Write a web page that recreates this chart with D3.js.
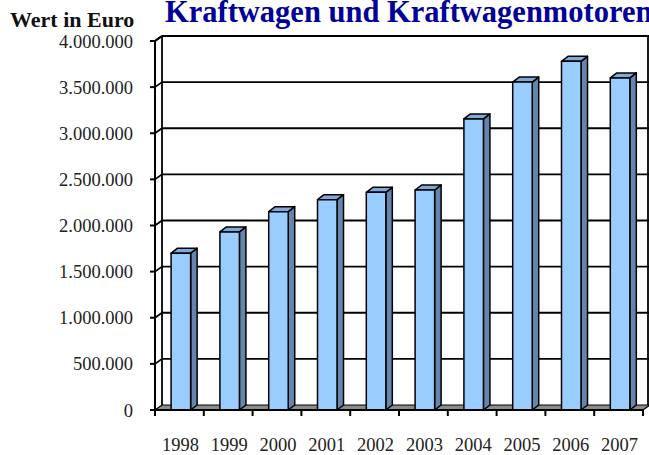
<!DOCTYPE html>
<html>
<head>
<meta charset="utf-8">
<script src="https://cdn.jsdelivr.net/npm/d3@7/dist/d3.min.js"></script>
<style>
  html, body { margin: 0; padding: 0; background: #fff; }
  svg { display: block; }
</style>
</head>
<body>
<svg id="chart" width="649" height="455"></svg>
<script>
// ---- data ----
const years = ["1998", "1999", "2000", "2001", "2002", "2003", "2004", "2005", "2006", "2007"];
const values = [1700000, 1930000, 2150000, 2280000, 2360000, 2385000, 3155000, 3555000, 3780000, 3600000];
const yTickValues = [0, 500000, 1000000, 1500000, 2000000, 2500000, 3000000, 3500000, 4000000];
const titleText = "Kraftwagen und Kraftwagenmotoren";
const yAxisTitle = "Wert in Euro";

(function () {
// ---- layout ----
const svg = d3.select("#chart");
const pLeft = 155, pRight = 643, pBottom = 410, pTop = 41;
const dx = 7, dy = -5;      // depth of the walls
const bdx = 6.5, bdy = -5;  // depth of the bars

const de = d3.formatLocale({decimal: ",", thousands: ".", grouping: [3], currency: ["", "€"]});
const fmt = de.format(",d");

const x = d3.scaleBand().domain(years).range([pLeft, pRight]).paddingInner(0).paddingOuter(0);
const y = d3.scaleLinear().domain([0, 4000000]).range([pBottom, pTop]);

const font = "'Liberation Serif', 'Times New Roman', serif";

// back wall
svg.append("rect")
  .attr("x", pLeft + dx).attr("y", y(4000000) + dy)
  .attr("width", pRight - pLeft + 10).attr("height", y(0) - y(4000000))
  .attr("fill", "#fff");

// gridlines on back wall and side wall
const grid = svg.append("g").attr("stroke", "#000").attr("stroke-width", 1.8).attr("fill", "none");
yTickValues.filter(v => v > 0).forEach(v => {
  grid.append("line")
    .attr("x1", pLeft + dx).attr("x2", pRight + dx + 10)
    .attr("y1", y(v) + dy).attr("y2", y(v) + dy);
  grid.append("line")
    .attr("x1", pLeft).attr("x2", pLeft + dx)
    .attr("y1", y(v)).attr("y2", y(v) + dy);
});
// back wall left & right edges
grid.append("line").attr("x1", pLeft + dx).attr("x2", pLeft + dx)
  .attr("y1", y(4000000) + dy).attr("y2", y(0) + dy);
grid.append("line").attr("x1", pRight + dx - 2).attr("x2", pRight + dx - 2)
  .attr("y1", y(4000000) + dy).attr("y2", y(0) + dy);

// floor
svg.append("path")
  .attr("d", `M${pLeft},${y(0)} L${pRight},${y(0)} L${pRight + dx},${y(0) + dy} L${pLeft + dx},${y(0) + dy} Z`)
  .attr("fill", "#8c8c8c").attr("stroke", "#000").attr("stroke-width", 1.2);

// bars
const bw = x.bandwidth();
const bars = svg.append("g").attr("stroke", "#000").attr("stroke-width", 1.5).attr("stroke-linejoin", "round");
years.forEach((yr, i) => {
  const x0 = x(yr) + bw * 0.33;
  const w = bw * 0.4;
  const yt = y(values[i]);
  const yb = y(0);
  bars.append("path")
    .attr("d", `M${x0 + w},${yt} L${x0 + w + bdx},${yt + bdy} L${x0 + w + bdx},${yb + bdy} L${x0 + w},${yb} Z`)
    .attr("fill", "#6486ad");
  bars.append("path")
    .attr("d", `M${x0},${yt} L${x0 + bdx},${yt + bdy} L${x0 + w + bdx},${yt + bdy} L${x0 + w},${yt} Z`)
    .attr("fill", "#7ea9d8");
  bars.append("rect")
    .attr("x", x0).attr("y", yt).attr("width", w).attr("height", yb - yt)
    .attr("fill", "#99ccff");
});

// front axis lines and ticks
const ax = svg.append("g").attr("stroke", "#000").attr("stroke-width", 2).attr("fill", "none");
ax.append("line").attr("x1", pLeft).attr("x2", pLeft).attr("y1", y(4000000)).attr("y2", y(0));
ax.append("line").attr("x1", pLeft).attr("x2", pLeft + dx).attr("y1", y(4000000)).attr("y2", y(4000000) + dy);
ax.append("line").attr("x1", pLeft).attr("x2", pRight).attr("y1", y(0)).attr("y2", y(0));
yTickValues.forEach(v => {
  ax.append("line").attr("x1", pLeft - 5).attr("x2", pLeft).attr("y1", y(v)).attr("y2", y(v));
});
const xTicks = years.map(d => x(d)).concat([pRight]);
xTicks.forEach(t => {
  ax.append("line").attr("x1", t).attr("x2", t).attr("y1", y(0)).attr("y2", y(0) + 6);
});

// y tick labels
svg.append("g").selectAll("text").data(yTickValues).join("text")
  .attr("x", 133).attr("y", d => y(d) + 6.5)
  .attr("text-anchor", "end")
  .attr("font-family", font).attr("font-size", 18.5).attr("fill", "#222")
  .text(d => fmt(d));

// x labels
svg.append("g").selectAll("text").data(years).join("text")
  .attr("x", d => x(d) + bw / 2 + 1).attr("y", 451)
  .attr("text-anchor", "middle")
  .attr("font-family", font).attr("font-size", 18.5).attr("fill", "#222")
  .text(d => d);

// axis title
svg.append("text")
  .attr("x", 10).attr("y", 27)
  .attr("font-family", font).attr("font-size", 22).attr("font-weight", "bold").attr("fill", "#111")
  .text(yAxisTitle);

// chart title
svg.append("text")
  .attr("x", 165).attr("y", 22)
  .attr("font-family", font).attr("font-size", 30.5).attr("font-weight", "bold").attr("fill", "#000099")
  .text(titleText);
})();
</script>
</body>
</html>
